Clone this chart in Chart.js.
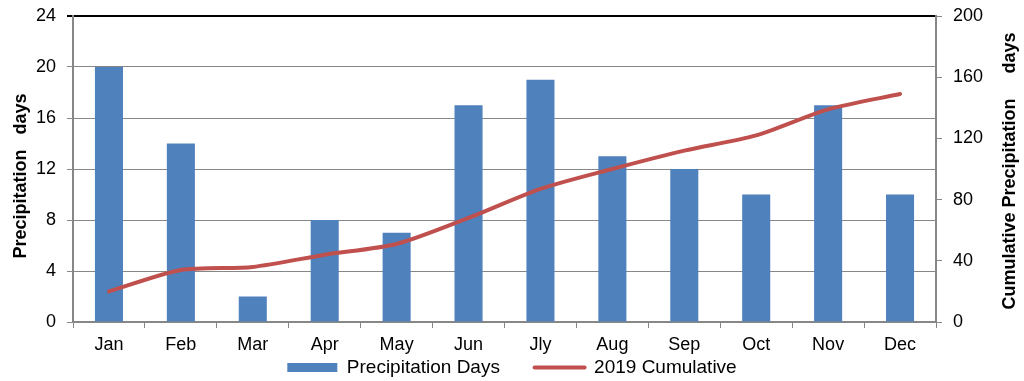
<!DOCTYPE html>
<html><head><meta charset="utf-8">
<script src="https://cdn.jsdelivr.net/npm/chart.js@4/dist/chart.umd.min.js"></script>
<style>html,body{margin:0;padding:0;background:#fff}#wrap{width:1024px;height:381px}</style>
</head><body><div id="wrap"><canvas id="c" width="1024" height="381"></canvas></div>
<script>
const categories = ['Jan','Feb','Mar','Apr','May','Jun','Jly','Aug','Sep','Oct','Nov','Dec'];
const precipitationDays = [20,14,2,8,7,17,19,13,12,10,17,10];
const cumulative2019 = [20,34,36,44,51,68,87,100,112,122,139,149];
const leftTickValues = [0,4,8,12,16,20,24];
const rightTickValues = [0,40,80,120,160,200];
const seriesNames = ['Precipitation Days','2019 Cumulative'];
const axisTitles = ['Precipitation   days','Cumulative Precipitation     days'];

const BLUE = '#4F81BD', RED = '#C0504D', GRID = '#878787';
const FAM = '"Liberation Sans", Arial, sans-serif';

// draws both rotated axis titles (reading bottom-to-top, as in the original)
const axisTitlePlugin = {
  id: 'axisTitles',
  afterDraw(chart) {
    const ctx = chart.ctx, a = chart.chartArea;
    const cy = (a.top + a.bottom) / 2;
    ctx.save();
    ctx.fillStyle = '#000';
    ctx.font = 'bold 18px ' + FAM;
    ctx.textAlign = 'center';
    ctx.textBaseline = 'middle';
    [[chart.scales.y.left + 21, cy + 7, axisTitles[0]],
     [chart.scales.y1.left + 74, cy + 2, axisTitles[1]]].forEach(([x, y, t]) => {
      ctx.save(); ctx.translate(x, y); ctx.rotate(-Math.PI / 2); ctx.fillText(t, 0, 0); ctx.restore();
    });
    ctx.restore();
  }
};

new Chart(document.getElementById('c'), {
  plugins: [axisTitlePlugin],
  data: {
    labels: categories,
    datasets: [
      { type: 'bar', label: seriesNames[0], data: precipitationDays, backgroundColor: BLUE,
        borderWidth: 0, yAxisID: 'y', order: 2, categoryPercentage: 1, barPercentage: 0.39 },
      { type: 'line', label: seriesNames[1], data: cumulative2019, borderColor: RED, backgroundColor: RED,
        borderWidth: 4, pointRadius: 0, tension: 0.25, yAxisID: 'y1', order: 1, borderCapStyle: 'round' }
    ]
  },
  options: {
    responsive: false, animation: false, devicePixelRatio: 1,
    layout: { padding: { top: 16, left: 0, right: 0, bottom: -6 } },
    plugins: {
      tooltip: { enabled: false },
      legend: {
        position: 'bottom',
        labels: {
          usePointStyle: true, pointStyleWidth: 50, boxHeight: 9, padding: 3,
          color: '#000', font: { family: FAM, size: 19 },
          generateLabels: chart => chart.data.datasets.map((ds, i) => ({
            text: i === 0 ? ds.label + '      ' : ds.label, datasetIndex: i, hidden: false,
            fillStyle: i === 0 ? BLUE : RED, strokeStyle: i === 0 ? BLUE : RED,
            lineWidth: i === 0 ? 0 : 4, lineCap: 'round',
            pointStyle: i === 0 ? 'rect' : 'line', fontColor: '#000'
          }))
        }
      }
    },
    scales: {
      x: {
        grid: { display: true, drawOnChartArea: false, offset: true, tickLength: 6, color: GRID, lineWidth: 1 },
        border: { color: GRID, width: 2 },
        ticks: { color: '#000', font: { family: FAM, size: 18 }, padding: 6 },
        afterFit: s => { s.height = 33; }
      },
      y: {
        position: 'left', min: 0, max: 24,
        afterBuildTicks: s => { s.ticks = leftTickValues.map(v => ({ value: v })); },
        grid: {
          tickLength: 6,
          color: c => (c.tick && c.tick.value === 24) ? '#000' : GRID,
          lineWidth: c => (c.tick && c.tick.value === 24) ? 2 : 1
        },
        border: { color: GRID, width: 2 },
        ticks: { color: '#000', font: { family: FAM, size: 18, lineHeight: 0.4 }, padding: 11 },
        afterFit: s => { s.width = 73; }
      },
      y1: {
        position: 'right', min: 0, max: 200,
        afterBuildTicks: s => { s.ticks = rightTickValues.map(v => ({ value: v })); },
        grid: { drawOnChartArea: false, tickLength: 6, color: GRID, lineWidth: 1 },
        border: { color: GRID, width: 2 },
        ticks: { color: '#000', font: { family: FAM, size: 18, lineHeight: 0.4 }, padding: 11 },
        afterFit: s => { s.width = 88; }
      }
    }
  }
});
</script></body></html>
